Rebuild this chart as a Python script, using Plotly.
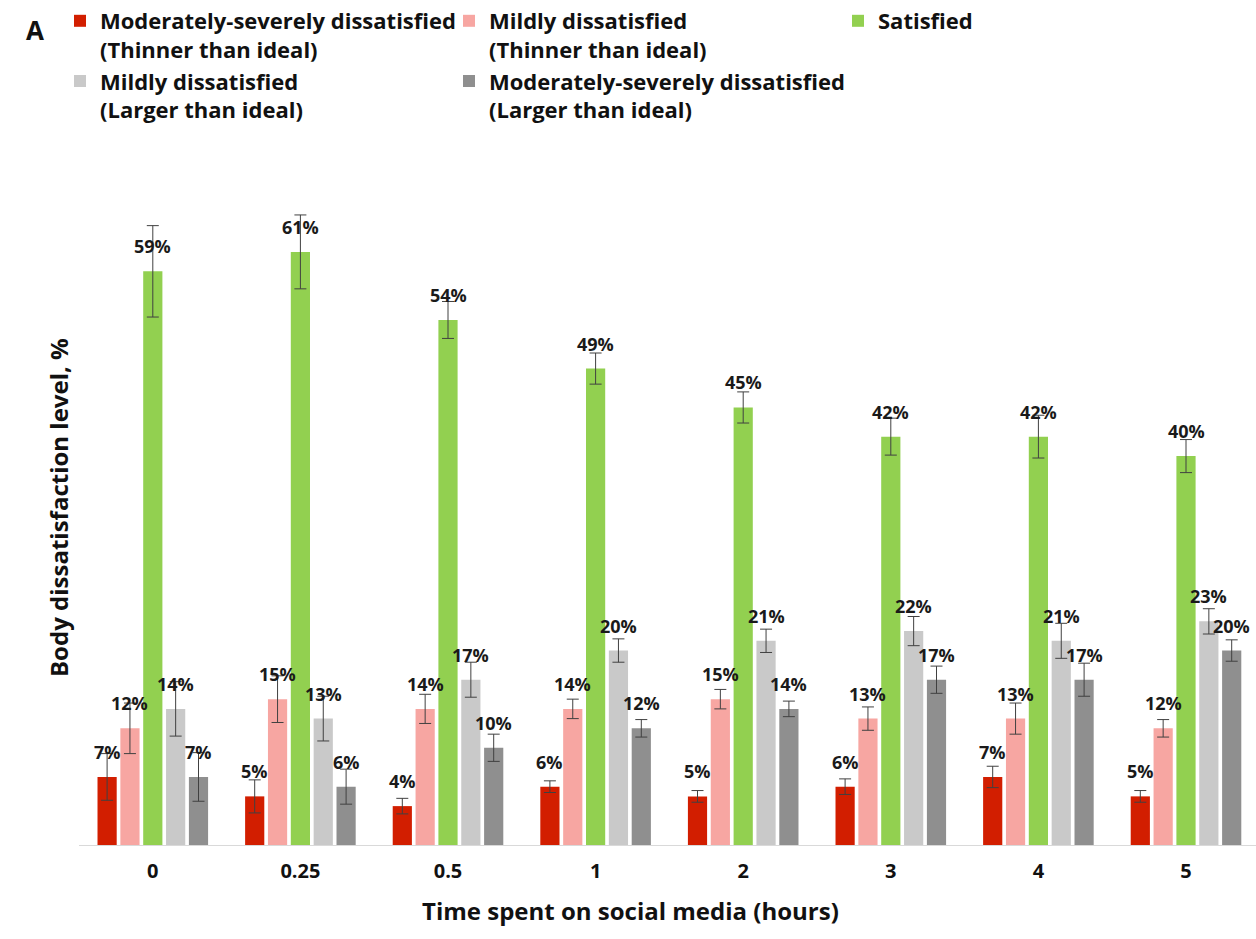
import plotly.graph_objects as go

categories = ["0", "0.25", "0.5", "1", "2", "3", "4", "5"]

series_names = [
    "Moderately-severely dissatisfied<br>(Thinner than ideal)",
    "Mildly dissatisfied<br>(Thinner than ideal)",
    "Satisfied",
    "Mildly dissatisfied<br>(Larger than ideal)",
    "Moderately-severely dissatisfied<br>(Larger than ideal)",
]

mod_sev_thin = [7, 5, 4, 6, 5, 6, 7, 5]
mild_thin = [12, 15, 14, 14, 15, 13, 13, 12]
satisfied = [59, 61, 54, 49, 45, 42, 42, 40]
mild_large = [14, 13, 17, 20, 21, 22, 21, 23]
mod_sev_large = [7, 6, 10, 12, 14, 17, 17, 20]

err_mod_sev_thin = [2.4, 1.7, 0.8, 0.6, 0.6, 0.8, 1.1, 0.6]
err_mild_thin = [2.6, 2.4, 1.5, 1.0, 1.0, 1.2, 1.6, 0.9]
err_satisfied = [4.7, 3.8, 1.9, 1.6, 1.6, 1.9, 2.2, 1.7]
err_mild_large = [2.8, 2.3, 1.8, 1.2, 1.2, 1.5, 1.8, 1.3]
err_mod_sev_large = [2.5, 1.8, 1.4, 0.9, 0.8, 1.4, 1.7, 1.1]

colors = ["#D21E00", "#F7A6A2", "#92D050", "#C9C9C9", "#8F8F8F"]

values = [mod_sev_thin, mild_thin, satisfied, mild_large, mod_sev_large]
errors = [err_mod_sev_thin, err_mild_thin, err_satisfied, err_mild_large, err_mod_sev_large]

W, H = 1256, 939
ML, MR, MT, MB = 79, 0, 213, 94
PW, PH = W - ML - MR, H - MT - MB


def px_to_paper(px, py):
    return (px - ML) / PW, (H - MB - py) / PH


BARGAP = 0.226
BARGROUPGAP = 0.16
n_series = len(values)
slot = (1 - BARGAP) / n_series

x_idx = list(range(len(categories)))
x_max = -0.5 + PW / 147.6

fig = go.Figure()
annotations = []
for k, (name, vals, errs, col) in enumerate(zip(series_names, values, errors, colors)):
    fig.add_trace(go.Bar(
        name=name,
        x=x_idx,
        y=vals,
        marker=dict(color=col, line=dict(width=0)),
        error_y=dict(type="data", array=errs, visible=True,
                     color="#404040", thickness=1, width=6),
    ))
    off = (k - (n_series - 1) / 2) * slot
    for i, v in enumerate(vals):
        annotations.append(dict(
            x=i + off, y=v, xref="x", yref="y",
            text=f"<b>{v}%</b>", showarrow=False, yanchor="bottom", yshift=11,
            font=dict(family="Open Sans", size=18, color="#1a1a1a"),
        ))

ax, ay = px_to_paper(24, 30)
annotations.append(dict(
    x=ax, y=ay, xref="paper", yref="paper",
    text="<b>A</b>", showarrow=False, xanchor="left", yanchor="middle",
    font=dict(family="Open Sans", size=26, color="#111"),
))
tx, ty = px_to_paper(630, 910)
annotations.append(dict(
    x=tx, y=ty, xref="paper", yref="paper",
    text="<b>Time spent on social media (hours)</b>", showarrow=False,
    xanchor="center", yanchor="middle",
    font=dict(family="Open Sans", size=24, color="#111"),
))
yx, yy = px_to_paper(58, 508)
annotations.append(dict(
    x=yx, y=yy, xref="paper", yref="paper",
    text="<b>Body dissatisfaction level, %</b>", showarrow=False, textangle=-90,
    xanchor="center", yanchor="middle",
    font=dict(family="Open Sans", size=24, color="#111"),
))

lx, ly = px_to_paper(60, 0)

fig.update_layout(
    width=W, height=H,
    paper_bgcolor="white", plot_bgcolor="white",
    barmode="group", bargap=BARGAP, bargroupgap=BARGROUPGAP,
    margin=dict(l=ML, r=MR, t=MT, b=MB, autoexpand=False),
    font=dict(family="Open Sans", color="#111"),
    xaxis=dict(
        range=[-0.5, x_max],
        tickvals=x_idx, ticktext=[f"<b>{c}</b>" for c in categories],
        tickfont=dict(family="Open Sans", size=20, color="#111"),
        showline=True, linecolor="#D9D9D9", linewidth=1,
        showgrid=False, zeroline=False, ticks="", ticklabelstandoff=8,
    ),
    yaxis=dict(
        range=[0, 65], showgrid=False, zeroline=False, showticklabels=False,
        showline=False, ticks="",
    ),
    legend=dict(
        orientation="h", xref="paper", yref="paper",
        x=lx, y=ly, xanchor="left", yanchor="top",
        entrywidth=344, entrywidthmode="pixels",
        font=dict(family="Open Sans", size=22, color="#111", weight="bold"),
        valign="top", traceorder="normal", itemclick=False,
        bgcolor="rgba(0,0,0,0)", tracegroupgap=0,
    ),
    annotations=annotations,
    showlegend=True,
)

fig.write_html("out.html")
